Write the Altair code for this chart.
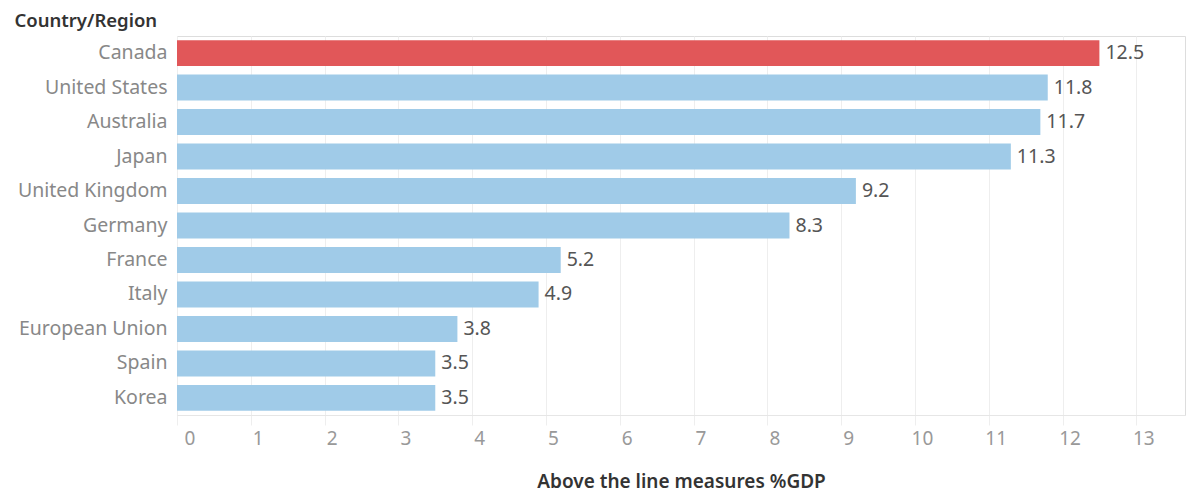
import altair as alt
import pandas as pd

countries = ["Canada", "United States", "Australia", "Japan", "United Kingdom", "Germany",
             "France", "Italy", "European Union", "Spain", "Korea"]
values = [12.5, 11.8, 11.7, 11.3, 9.2, 8.3, 5.2, 4.9, 3.8, 3.5, 3.5]
highlight = ["Canada"]
x_ticks = list(range(0, 14))

df = pd.DataFrame({"country": countries, "value": values})
df["hl"] = df["country"].isin(highlight)
df["label"] = df["value"].map(lambda v: f"{v:.1f}")

FONT = "Noto Sans"

y_enc = alt.Y("country:N", sort=countries,
              scale=alt.Scale(paddingInner=0.25, paddingOuter=0.12),
              axis=alt.Axis(title="Country/Region", titleAngle=0, titleAlign="left",
                            titleX=-163, titleY=-10, titleBaseline="alphabetic",
                            titleFont=FONT, titleFontSize=18.5, titleFontWeight=600,
                            titleColor="#333333",
                            labelFont=FONT, labelFontSize=19.5, labelColor="#888888",
                            labelPadding=10, ticks=False, domain=False, grid=False))
x_enc = alt.X("value:Q", scale=alt.Scale(domain=[0, 13.66], nice=False),
              axis=alt.Axis(title="Above the line measures %GDP", values=x_ticks, format="d",
                            titleFont=FONT, titleFontSize=19, titleFontWeight=600,
                            titleColor="#333333", titleY=72, titleBaseline="alphabetic",
                            labelFont=FONT, labelFontSize=19, labelColor="#999999",
                            labelOffset=7, labelPadding=4,
                            grid=True, gridColor="#eeeeee", tickColor="#eeeeee", tickSize=10,
                            domainColor="#e6e6e6"))

bars = alt.Chart(df).mark_bar().encode(
    x=x_enc, y=y_enc,
    color=alt.Color("hl:N", scale=alt.Scale(domain=[True, False], range=["#E15759", "#A0CBE8"]),
                    legend=None),
)
text = alt.Chart(df).mark_text(align="left", baseline="middle", dx=6, font=FONT,
                               fontSize=19.5, color="#555555").encode(
    x="value:Q", y=alt.Y("country:N", sort=countries), text="label:N")

chart = (bars + text).properties(
    width=1008, height=379,
    autosize=alt.AutoSizeParams(type="none"),
    padding={"left": 177, "top": 36, "right": 12, "bottom": 79},
).configure_view(stroke=None).configure(background="white")

chart.save("out.html", embed_options={"renderer": "svg", "actions": False})
